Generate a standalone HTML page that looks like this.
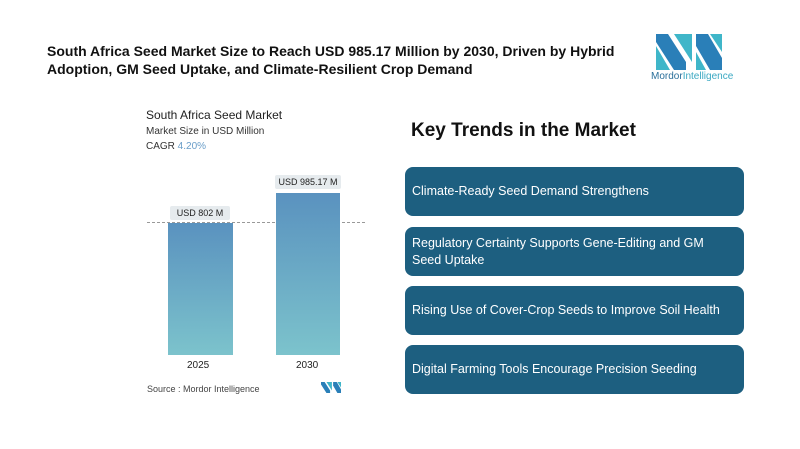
<!DOCTYPE html>
<html><head><style>
body{margin:0;width:800px;height:449px;background:#fff;position:relative;font-family:"Liberation Sans",sans-serif;overflow:hidden}
.a{position:absolute}
.box{position:absolute;left:405px;width:339px;height:49px;background:#1d5f80;border-radius:8px;color:#fff;font-size:12.5px;display:flex;align-items:center;padding-left:7px;box-sizing:border-box;line-height:17px}
.bar{position:absolute;background:linear-gradient(#5a92bf,#7cc3cc)}
.lbl{position:absolute;background:#e6ebee;font-size:9px;color:#222;text-align:center;height:14px;line-height:14px;border-radius:2px}
</style></head><body>
<div class="a" style="left:47px;top:42px;font-size:14px;font-weight:bold;line-height:18px;color:#111">South Africa Seed Market Size to Reach USD 985.17 Million by 2030, Driven by Hybrid<br>Adoption, GM Seed Uptake, and Climate-Resilient Crop Demand</div>
<svg class="a" style="left:656px;top:34px" width="66" height="36" viewBox="0 0 66 36">
<polygon points="0,0 12,0 30,28 30,36 18,36 0,8" fill="#2a7fb8"/>
<polygon points="0,12 14,36 0,36" fill="#3fb6c9"/>
<polygon points="18,0 36,0 36,28" fill="#3fb6c9"/>
<polygon points="40,0 52,0 66,24 66,36 54,36 40,12" fill="#2a7fb8"/>
<polygon points="40,18 50,36 40,36" fill="#3fb6c9"/>
<polygon points="54,0 66,0 66,18" fill="#3fb6c9"/>
</svg>
<div class="a" style="left:651px;top:71px;font-size:10px;color:#2a6f9a">Mordor<span style="color:#3aa8c2">Intelligence</span></div>
<div class="a" style="left:146px;top:108px;font-size:12px;color:#222">South Africa Seed Market</div>
<div class="a" style="left:146px;top:126px;font-size:10px;color:#333">Market Size in USD Million</div>
<div class="a" style="left:146px;top:141px;font-size:10px;color:#333">CAGR <span style="color:#6a9ec9">4.20%</span></div>
<div class="a" style="left:147px;top:222px;width:218px;border-top:1px dashed #999"></div>
<div class="bar" style="left:168px;top:223px;width:65px;height:132px"></div>
<div class="bar" style="left:276px;top:193px;width:64px;height:162px"></div>
<div class="lbl" style="left:170px;top:206px;width:60px">USD 802 M</div>
<div class="lbl" style="left:275px;top:175px;width:66px">USD 985.17 M</div>
<div class="a" style="left:187px;top:360px;font-size:10px;color:#222">2025</div>
<div class="a" style="left:296px;top:360px;font-size:10px;color:#222">2030</div>
<div class="a" style="left:147px;top:384px;font-size:9px;color:#444">Source : Mordor Intelligence</div>
<svg class="a" style="left:321px;top:382px" width="20" height="11" viewBox="0 0 66 36"><polygon points="0,0 12,0 30,28 30,36 18,36 0,8" fill="#2a7fb8"/><polygon points="18,0 36,0 36,28" fill="#3fb6c9"/><polygon points="40,0 52,0 66,24 66,36 54,36 40,12" fill="#2a7fb8"/><polygon points="54,0 66,0 66,18" fill="#3fb6c9"/></svg>
<div class="a" style="left:411px;top:120px;font-size:19px;font-weight:bold;color:#111">Key Trends in the Market</div>
<div class="box" style="top:167px">Climate-Ready Seed Demand Strengthens</div>
<div class="box" style="top:227px">Regulatory Certainty Supports Gene-Editing and GM<br>Seed Uptake</div>
<div class="box" style="top:286px">Rising Use of Cover-Crop Seeds to Improve Soil Health</div>
<div class="box" style="top:345px">Digital Farming Tools Encourage Precision Seeding</div>
</body></html>
